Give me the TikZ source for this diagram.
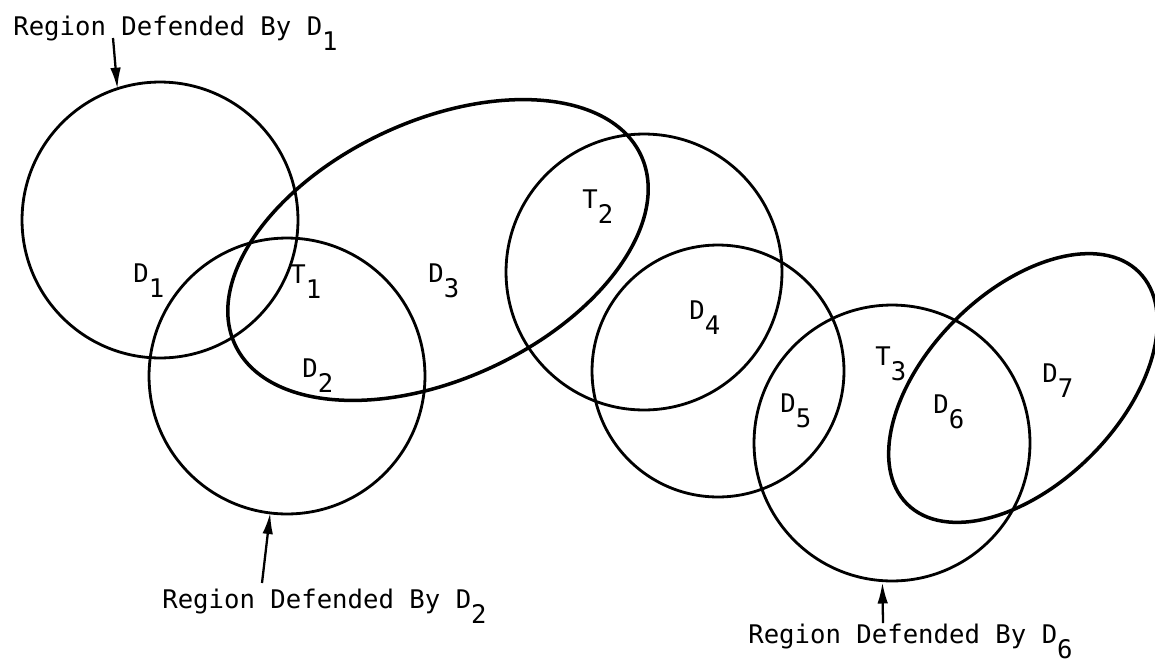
\documentclass[tikz,border=0pt]{standalone}
\usepackage{fontspec}
\newfontfamily\lettering{DejaVu Sans Mono}
\usetikzlibrary{shapes.geometric,arrows.meta}
\newcommand\ind[1]{\raisebox{-9pt}{#1}}
\tikzset{
  zone/.style={draw,circle,line width=1.6pt,inner sep=0pt,outer sep=0pt,minimum size=5.52cm},
  lobe/.style={draw,ellipse,line width=2pt,inner sep=0pt,outer sep=0pt},
  tag/.style={font=\lettering\fontsize{14.6}{17}\selectfont,inner sep=0pt,anchor=base west},
  pointer/.style={-{Latex[length=12pt,width=6pt]},line width=1.3pt}
}
\begin{document}
\begin{tikzpicture}[x=0.02cm,y=-0.02cm]
% Regions defendues par les D et cibles T
\useasboundingbox (0,0) rectangle (1155,663);
\node[zone] (rd1) at (160,220) {};
\node[zone] (rd2) at (287,376) {};
\node[lobe,minimum width=8.96cm,minimum height=5.16cm,rotate=25] (rd3) at (438,250) {};
\node[zone] (rt2) at (644,272) {};
\node[zone,minimum size=5.04cm] (rd4) at (718,371) {};
\node[zone] (rd6) at (892,443) {};
\node[lobe,minimum width=6.56cm,minimum height=3.84cm,rotate=45] (rd7) at (1023,388) {};
\node[tag] (l1) at (133,282) {D\ind{1}};
\node[tag] (t1) at (290,283) {T\ind{1}};
\node[tag] (l3) at (428,282) {D\ind{3}};
\node[tag] (l2) at (302,377) {D\ind{2}};
\node[tag] (t2) at (582,208) {T\ind{2}};
\node[tag] (l4) at (689,319) {D\ind{4}};
\node[tag] (l5) at (780,412) {D\ind{5}};
\node[tag] (t3) at (875,365) {T\ind{3}};
\node[tag] (l6) at (933,413) {D\ind{6}};
\node[tag] (l7) at (1042,382) {D\ind{7}};
\node[tag] (cap1) at (13,35) {Region Defended By D\ind{1}};
\node[tag] (cap2) at (162,608) {Region Defended By D\ind{2}};
\node[tag] (cap6) at (748,643) {Region Defended By D\ind{6}};
\coordinate (a1) at (113,38);
\coordinate (a2) at (262,583);
\coordinate (a6) at (883,623);
\draw[pointer] (a1) -- (rd1.108);
\draw[pointer] (a2) -- (rd2.263);
\draw[pointer,shorten >=1pt] (a6) -- (rd6.266);
\end{tikzpicture}
\end{document}
